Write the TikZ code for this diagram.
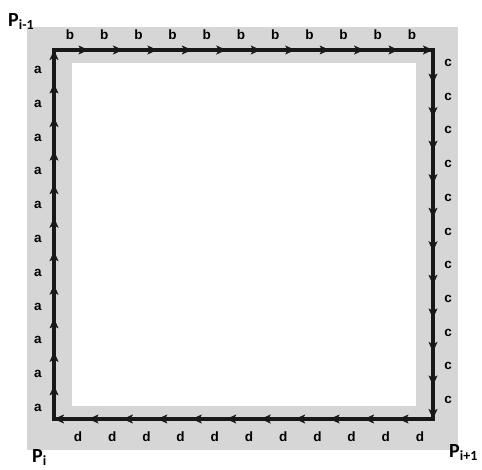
\documentclass[tikz,border=0pt]{standalone}
\usepackage{fontspec}
\setmainfont{Liberation Sans}
\newfontfamily\carlito{Carlito}
\usetikzlibrary{arrows.meta,decorations.markings}
\definecolor{bggray}{RGB}{214,214,214}
\definecolor{linecol}{RGB}{24,24,24}
\begin{document}
\begin{tikzpicture}[x=1pt,y=-1pt,
  loopline/.style={draw=linecol, line width=3.2pt, line join=miter},
  arrowmarks/.style={postaction={decorate},
    decoration={markings,
      mark=between positions 0.0909 and 1 step 0.0909 with {\arrow[linecol]{Stealth[length=10pt,width=9pt,inset=2.5pt]}}}},
  lbl/.style={font=\bfseries\fontsize{13.5}{13.5}\selectfont, text=black, inner sep=0pt},
  plbl/.style={font=\carlito\bfseries\fontsize{20}{20}\selectfont, inner sep=0pt, anchor=base west}]
\useasboundingbox (0,0) rectangle (482,470);
\fill[white] (0,0) rectangle (482,470);
\fill[bggray] (27,27) rectangle (458,450);
\fill[white] (72,63) rectangle (416,406);

\coordinate (Pim1) at (54,50);
\coordinate (TR) at (433,50);
\coordinate (Pip1) at (433,419);
\coordinate (Pi) at (54,419);

\draw[loopline] (Pi) -- (Pim1) -- (TR) -- (Pip1) -- cycle;
\path[arrowmarks] (Pi) -- (Pim1);
\path[arrowmarks] (Pim1) -- (TR);
\path[arrowmarks] (TR) -- (Pip1);
\path[arrowmarks] (Pip1) -- (Pi);

\foreach \i in {0,...,10} {
  \node[lbl] (a\i) at (38,{70+33.8*\i}) {a};
  \node[lbl] (b\i) at ({70+34.2*\i},35) {b};
  \node[lbl] (c\i) at (448,{63+33.7*\i}) {c};
  \node[lbl] (d\i) at ({78+34.2*\i},437) {d};
}

\node[plbl] (lPim1) at (8,26.5) {P\textsubscript{i-1}};
\node[plbl] (lPi) at (32,462.5) {P\textsubscript{i}};
\node[plbl] (lPip1) at (449,457) {P\textsubscript{i+1}};
\end{tikzpicture}
\end{document}
